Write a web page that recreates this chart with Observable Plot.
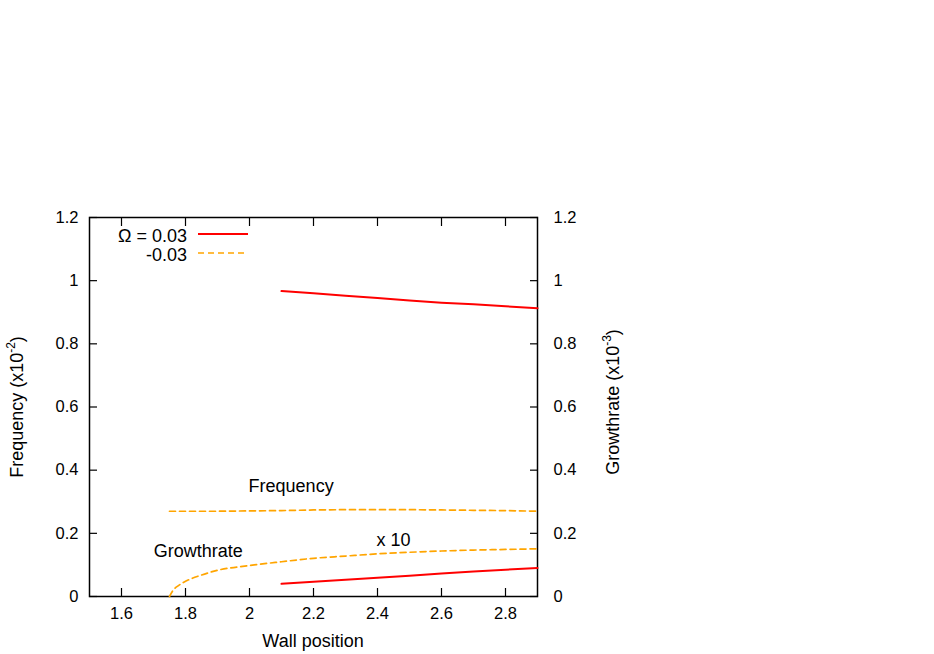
<!DOCTYPE html>
<html><head><meta charset="utf-8">
<script src="https://cdn.jsdelivr.net/npm/d3@7"></script>
<script src="https://cdn.jsdelivr.net/npm/@observablehq/plot@0.6"></script>
<style>
body{margin:0;background:#fff;}
#chart svg{font-family:"Liberation Sans",Arial,sans-serif;}
</style></head>
<body><div id="chart"></div>
<script>
// Red (Ω = 0.03) curves
const redX = [2.1, 2.2, 2.3, 2.4, 2.5, 2.6, 2.7, 2.8, 2.9];
const redFreq = [0.967, 0.960, 0.952, 0.945, 0.937, 0.930, 0.925, 0.919, 0.913];
const redGrowth = [0.040, 0.047, 0.053, 0.059, 0.066, 0.073, 0.079, 0.085, 0.090];
// Orange (-0.03) curves
const orangeFreqX = [1.75, 1.8, 1.9, 2.0, 2.1, 2.2, 2.3, 2.4, 2.5, 2.6, 2.7, 2.8, 2.9];
const orangeFreq = [0.270, 0.270, 0.270, 0.271, 0.272, 0.274, 0.275, 0.275, 0.275, 0.274, 0.273, 0.272, 0.270];
const orangeGrowthX = [1.75, 1.76, 1.78, 1.8, 1.85, 1.9, 2.0, 2.1, 2.2, 2.3, 2.4, 2.5, 2.6, 2.7, 2.8, 2.9];
const orangeGrowth = [0, 0.018, 0.036, 0.048, 0.068, 0.083, 0.098, 0.110, 0.121, 0.128, 0.135, 0.140, 0.144, 0.147, 0.149, 0.151];
// ticks
const xTicks = [1.6, 1.8, 2, 2.2, 2.4, 2.6, 2.8];
const yTicks = [0, 0.2, 0.4, 0.6, 0.8, 1, 1.2];
// annotations
const notes = [
  {x: 2.13, y: 0.35, text: "Frequency"},
  {x: 1.84, y: 0.142, text: "Growthrate"},
  {x: 2.45, y: 0.177, text: "x 10"}
];
const legendItems = ["Ω = 0.03", "-0.03"];

const toPts = (xs, ys) => xs.map((x, i) => ({x, y: ys[i]}));
const RED = "#ff0000", ORANGE = "#ffa500";
const TICKFS = 16.5, LABELFS = 18;

const plot = Plot.plot({
  width: 934, height: 654,
  marginLeft: 89, marginRight: 397, marginTop: 217, marginBottom: 58,
  style: {fontSize: TICKFS + "px", fontFamily: "Liberation Sans, Arial, sans-serif", color: "#000", background: "#fff"},
  x: {domain: [1.5, 2.9]},
  y: {domain: [0, 1.2]},
  marks: [
    Plot.frame({stroke: "#000", strokeWidth: 1.5}),
    Plot.axisX({anchor: "bottom", ticks: xTicks, tickSize: -8, tickPadding: 19, label: null, tickFormat: d => String(d), strokeWidth: 1.2, fontSize: TICKFS}),
    Plot.axisX({anchor: "top", ticks: xTicks, tickSize: -8, tickFormat: () => "", label: null, strokeWidth: 1.2}),
    Plot.axisY({anchor: "left", ticks: yTicks, tickSize: -8, tickPadding: 19, label: null, tickFormat: d => String(d), strokeWidth: 1.2, fontSize: TICKFS}),
    Plot.axisY({anchor: "right", ticks: yTicks, tickSize: -8, tickPadding: 24, label: null, tickFormat: d => String(d), textAnchor: "start", strokeWidth: 1.2, fontSize: TICKFS}),
    Plot.line(toPts(redX, redFreq), {x: "x", y: "y", stroke: RED, strokeWidth: 2}),
    Plot.line(toPts(redX, redGrowth), {x: "x", y: "y", stroke: RED, strokeWidth: 2}),
    Plot.line(toPts(orangeFreqX, orangeFreq), {x: "x", y: "y", stroke: ORANGE, strokeWidth: 1.7, strokeDasharray: "6,4"}),
    Plot.line(toPts(orangeGrowthX, orangeGrowth), {x: "x", y: "y", stroke: ORANGE, strokeWidth: 1.7, strokeDasharray: "6,4", curve: "monotone-x"}),
    Plot.text(notes, {x: "x", y: "y", text: "text", fontSize: LABELFS, fill: "#000"})
  ]
});
document.getElementById("chart").appendChild(plot);

const svg = d3.select(plot);
// Axis labels
svg.append("text").attr("x", 313).attr("y", 647).attr("text-anchor", "middle")
  .attr("font-size", LABELFS).attr("fill", "#000").text("Wall position");
const yl = svg.append("text").attr("transform", "translate(23,407) rotate(-90)")
  .attr("text-anchor", "middle").attr("font-size", LABELFS).attr("fill", "#000");
yl.append("tspan").text("Frequency (x10");
yl.append("tspan").attr("font-size", 12).attr("dy", -8).text("-2");
yl.append("tspan").attr("dy", 8).text(")");
const yr = svg.append("text").attr("transform", "translate(619,402) rotate(-90)")
  .attr("text-anchor", "middle").attr("font-size", LABELFS).attr("fill", "#000");
yr.append("tspan").text("Growthrate (x10");
yr.append("tspan").attr("font-size", 12).attr("dy", -8).text("-3");
yr.append("tspan").attr("dy", 8).text(")");
// Legend
const lg = svg.append("g");
const styles = [{stroke: RED, w: 2, dash: null}, {stroke: ORANGE, w: 1.7, dash: "6,4"}];
legendItems.forEach((t, i) => {
  const y = 242 + i * 19;
  lg.append("text").attr("x", 187).attr("y", y).attr("text-anchor", "end")
    .attr("font-size", LABELFS).attr("fill", "#000").text(t);
  lg.append("line").attr("x1", 198).attr("x2", 248).attr("y1", y - 8).attr("y2", y - 8)
    .attr("stroke", styles[i].stroke).attr("stroke-width", styles[i].w)
    .attr("stroke-dasharray", styles[i].dash);
});
</script></body></html>
